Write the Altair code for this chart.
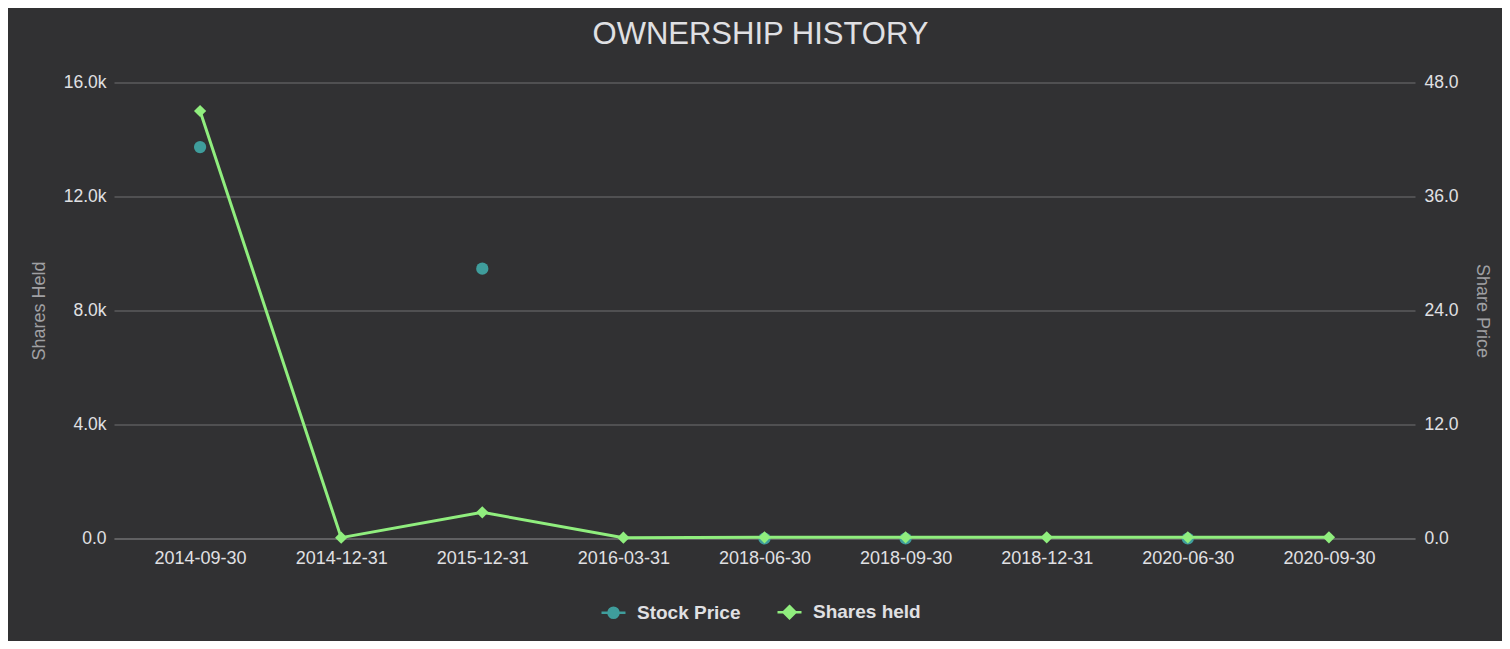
import altair as alt
import pandas as pd

# ---- data ----
dates = ["2014-09-30", "2014-12-31", "2015-12-31", "2016-03-31", "2018-06-30",
         "2018-09-30", "2018-12-31", "2020-06-30", "2020-09-30"]
shares_held = [15000, 30, 920, 30, 40, 40, 40, 40, 40]
stock_price = [41.2, None, 28.4, None, 0.0, 0.0, None, 0.0, None]
series_names = ["Stock Price", "Shares held"]
series_colors = ["#3f9d9c", "#90ee7e"]
left_ticks = [0, 4000, 8000, 12000, 16000]
right_ticks = [0, 12, 24, 36, 48]

df = pd.DataFrame({"date": dates, "shares": shares_held, "price": stock_price})
legend_df = pd.DataFrame({"series": series_names})

FONT = "Liberation Sans"
LABEL = "#e0e0e3"
TITLE_C = "#a0a0a3"
GRID = "#707073"

x_enc = alt.X(
    "date:O", sort=dates,
    scale=alt.Scale(type="point", padding=0.61),
    axis=alt.Axis(title=None, labelAngle=0, labelColor=LABEL, labelFont=FONT,
                  labelFontSize=18, labelPadding=11, ticks=False,
                  domain=True, domainColor=GRID, domainWidth=1, grid=False),
)

price_layer = alt.Chart(df).mark_point(
    filled=True, shape="circle", size=150, color=series_colors[0], opacity=1
).encode(
    x=x_enc,
    y=alt.Y("price:Q", scale=alt.Scale(domain=[0, 48], nice=False),
            axis=alt.Axis(orient="right", title="Share Price", values=right_ticks,
                          format=".1f", grid=False, domain=False, ticks=False,
                          labelColor=LABEL, labelFont=FONT, labelFontSize=17.5,
                          labelPadding=9, titleColor=TITLE_C, titleFont=FONT,
                          titleFontSize=18, titleFontWeight="normal",
                          titlePadding=14)),
).transform_filter("isValid(datum.price)")

shares_axis = alt.Axis(orient="left", title="Shares Held", values=left_ticks,
                       labelExpr="datum.value == 0 ? '0.0' : format(datum.value / 1000, '.1f') + 'k'",
                       grid=True, gridColor=GRID, gridWidth=1, domain=False,
                       ticks=False, labelColor=LABEL, labelFont=FONT,
                       labelFontSize=17.5, labelPadding=8, titleColor=TITLE_C,
                       titleFont=FONT, titleFontSize=18, titleFontWeight="normal",
                       titlePadding=15)

shares_y = alt.Y("shares:Q", scale=alt.Scale(domain=[0, 16000], nice=False),
                 axis=shares_axis)

shares_line = alt.Chart(df).mark_line(
    color=series_colors[1], strokeWidth=3
).encode(x=x_enc, y=shares_y)

shares_pts = alt.Chart(df).mark_point(
    filled=True, shape="diamond", size=150, color=series_colors[1], opacity=1
).encode(x=x_enc, y=alt.Y("shares:Q", scale=alt.Scale(domain=[0, 16000], nice=False)))

circle_sym = "M-1,0L1,0M-0.42,0A0.42,0.42 0 1 0 0.42,0A0.42,0.42 0 1 0 -0.42,0Z"
diamond_sym = "M-1,0L1,0M0,-0.5L0.5,0L0,0.5L-0.5,0Z"

legend_def = alt.Legend(
    title=None, orient="none", direction="horizontal", legendX=486, legendY=516,
    padding=0, labelColor=LABEL, labelFont=FONT, labelFontSize=19,
    labelFontWeight="bold", symbolSize=576, symbolStrokeWidth=2.5,
    labelOffset=10, columnPadding=31,
)

legend_layer = alt.Chart(legend_df).mark_point(filled=True, opacity=1).encode(
    fill=alt.Fill("series:N", scale=alt.Scale(domain=series_names, range=series_colors),
                  legend=legend_def),
    stroke=alt.Stroke("series:N", scale=alt.Scale(domain=series_names, range=series_colors),
                      legend=legend_def),
    shape=alt.Shape("series:N", scale=alt.Scale(domain=series_names,
                                                range=[circle_sym, diamond_sym]),
                    legend=legend_def),
).transform_filter("false")

shares_layer = alt.layer(shares_line, shares_pts)

chart = alt.layer(price_layer, shares_layer, legend_layer).resolve_scale(
    y="independent"
).properties(
    width=1301, height=456,
    autosize=alt.AutoSizeParams(type="none"),
    padding={"left": 106, "top": 74.5, "right": 87, "bottom": 102.5},
    background="#313133",
    title=alt.Title("OWNERSHIP HISTORY", color=LABEL, font=FONT, fontSize=31,
                    fontWeight="normal", anchor="middle", offset=23, dx=-4),
).configure_view(stroke=None)

chart.save("out.html", embed_options={"renderer": "svg", "actions": False})
